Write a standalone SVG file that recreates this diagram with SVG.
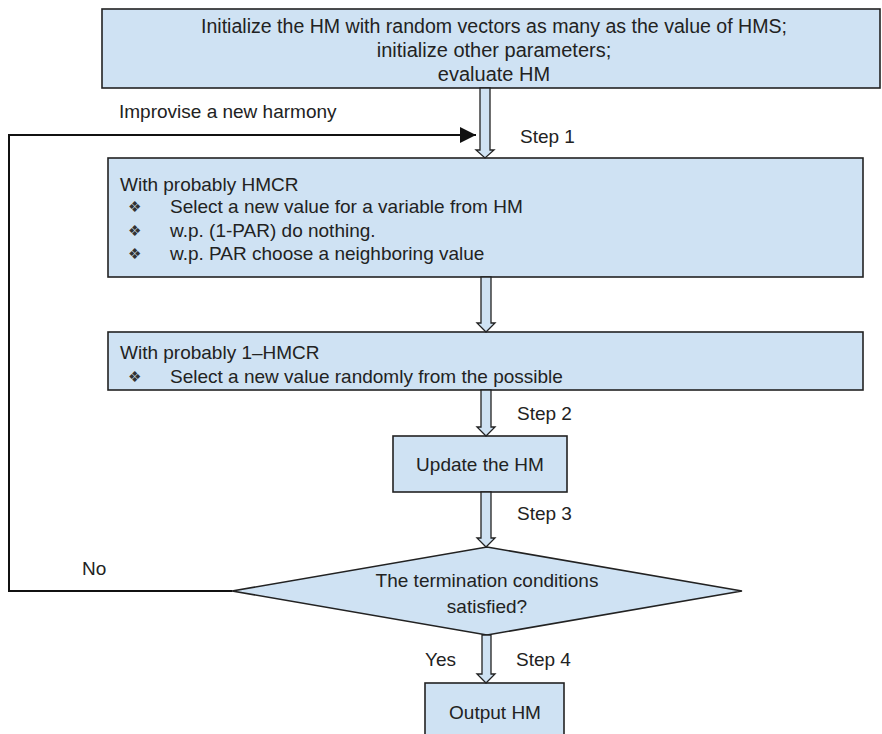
<svg xmlns="http://www.w3.org/2000/svg" width="882" height="734" viewBox="0 0 882 734">
  <defs>
    <style>
      .box { fill: #cfe2f3; stroke: #222; stroke-width: 1.6; }
      .flow { fill: #cfe2f3; stroke: #222; stroke-width: 1.3; stroke-linejoin: miter; }
      .t { font-family: "Liberation Sans", Arial, sans-serif; font-size: 19px; fill: #222; }
      .big { font-size: 20px; }
      .c { text-anchor: middle; }
      .bul { font-family: "DejaVu Sans", sans-serif; font-size: 15px; fill: #333; }
      .line { fill: none; stroke: #111; stroke-width: 2; }
    </style>
    <marker id="head" viewBox="0 0 10 10" refX="10" refY="5" markerWidth="18" markerHeight="16" markerUnits="userSpaceOnUse" orient="auto">
      <path d="M0,0 L10,5 L0,10 z" fill="#111"/>
    </marker>
  </defs>
  <rect width="882" height="734" fill="#fff"/>

  <g id="init">
    <rect class="box" x="102" y="9" width="778" height="79"/>
    <text class="t big c" x="494" y="33" textLength="586" lengthAdjust="spacingAndGlyphs">Initialize the HM with random vectors as many as the value of HMS;</text>
    <text class="t big c" x="494" y="57">initialize other parameters;</text>
    <text class="t big c" x="494" y="81">evaluate HM</text>
  </g>

  <g id="hmcr">
    <rect class="box" x="108" y="158" width="755" height="119"/>
    <text class="t" x="120" y="191">With probably HMCR</text>
    <text class="bul" x="128" y="212">❖</text>
    <text class="t" x="170" y="213">Select a new value for a variable from HM</text>
    <text class="bul" x="128" y="236">❖</text>
    <text class="t" x="170" y="237">w.p. (1-PAR) do nothing.</text>
    <text class="bul" x="128" y="259">❖</text>
    <text class="t" x="170" y="260">w.p. PAR choose a neighboring value</text>
  </g>

  <g id="random">
    <rect class="box" x="108" y="332" width="755" height="58"/>
    <text class="t" x="120" y="359">With probably 1–HMCR</text>
    <text class="bul" x="128" y="382">❖</text>
    <text class="t" x="170" y="383">Select a new value randomly from the possible</text>
  </g>

  <g id="update">
    <rect class="box" x="393" y="436" width="174" height="56"/>
    <text class="t c" x="480" y="471">Update the HM</text>
  </g>

  <g id="check">
    <polygon class="box" points="232,591 487,547 742,591 487,635"/>
    <text class="t c" x="487" y="587">The termination conditions</text>
    <text class="t c" x="487" y="613">satisfied?</text>
  </g>

  <g id="output">
    <rect class="box" x="425" y="683" width="139" height="60"/>
    <text class="t c" x="495" y="719">Output HM</text>
  </g>

  <g id="connectors">
    <!-- hollow block arrows between steps -->
    <polygon class="flow" points="480,88 490,88 490,150 494,150 485,158 476,150 480,150"/>
    <polygon class="flow" points="481,277 491,277 491,323 495,323 486,332 477,323 481,323"/>
    <polygon class="flow" points="481,390 491,390 491,427 495,427 486,436 477,427 481,427"/>
    <polygon class="flow" points="481,492 491,492 491,538 495,538 486,547 477,538 481,538"/>
    <polygon class="flow" points="482,635 491,635 491,674 495,674 486,683 477,674 482,674"/>
    <!-- loop back from the "No" branch -->
    <polyline class="line" points="232,591 9,591 9,135 476,135" marker-end="url(#head)"/>
    <text class="t" x="119" y="118">Improvise a new harmony</text>
    <text class="t" x="520" y="143">Step 1</text>
    <text class="t" x="517" y="420">Step 2</text>
    <text class="t" x="517" y="520">Step 3</text>
    <text class="t" x="82" y="575">No</text>
    <text class="t" x="425" y="666">Yes</text>
    <text class="t" x="516" y="666">Step 4</text>
  </g>
</svg>
